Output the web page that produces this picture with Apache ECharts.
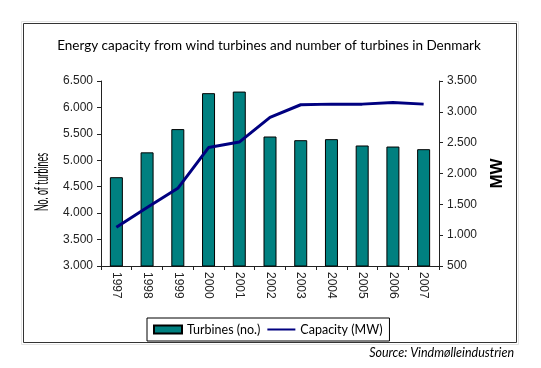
<!DOCTYPE html>
<html><head><meta charset="utf-8">
<script src="https://cdn.jsdelivr.net/npm/echarts@6/dist/echarts.min.js"></script>
<style>html,body{margin:0;padding:0;background:#fff;}#c{width:541px;height:368px;}</style>
</head><body><div id="c"></div>
<script>
const years = ['1997','1998','1999','2000','2001','2002','2003','2004','2005','2006','2007'];
const turbines = [4680, 5150, 5590, 6270, 6300, 5450, 5380, 5400, 5280, 5260, 5210];
const capacityMW = [1128, 1450, 1760, 2420, 2510, 2910, 3115, 3125, 3125, 3150, 3125];
const leftTicks = {min: 3000, max: 6500, interval: 500};
const rightTicks = {min: 500, max: 3500, interval: 500};

const fmt = v => { const s = String(Math.round(v)); return s.length > 3 ? s.slice(0, -3) + '.' + s.slice(-3) : s; };
const chart = echarts.init(document.getElementById('c'), null, {renderer: 'canvas'});
chart.setOption({
  animation: false,
  backgroundColor: '#fff',
  title: {
    text: 'Energy capacity from wind turbines and number of turbines in Denmark',
    left: 264, textAlign: 'center', top: 34,
    textStyle: {fontFamily: 'Lato', fontSize: 13.5, fontWeight: 'normal', color: '#000'}
  },
  graphic: [
    {type: 'rect', shape: {x: 21.5, y: 21.5, width: 497, height: 323}, style: {fill: 'none', stroke: '#e4e4e4', lineWidth: 1}, z: -1},
    {type: 'rect', shape: {x: 23.5, y: 23.5, width: 493, height: 319}, style: {fill: 'none', stroke: '#333', lineWidth: 1}, z: -1},
    {type: 'text', right: 27, top: 346, style: {text: 'Source: Vindmølleindustrien', font: 'italic 12.5px Lato', fill: '#000'}},
    {type: 'text', x: 42, y: 182, rotation: Math.PI / 2, scaleX: 0.68, scaleY: 1.45,
     style: {text: 'No. of turbines', font: '13px Lato', fill: '#000', textAlign: 'center', textVerticalAlign: 'middle'}}
  ],
  legend: {
    left: 147, top: 318, itemGap: 7, padding: [5, 7, 5, 6],
    borderColor: '#000', borderWidth: 1,
    itemWidth: 28, itemHeight: 8, symbolKeepAspect: false,
    textStyle: {fontFamily: 'Lato', fontSize: 12.5, color: '#000'},
    data: [
      {name: 'Turbines (no.)', icon: 'rect'},
      {name: 'Capacity (MW)', icon: 'path://M0,3.6 L10,3.6 L10,6.4 L0,6.4 Z M0,0 L0.001,0 M0,10 L0.001,10', itemStyle: {color: '#000080', borderWidth: 0}}
    ]
  },
  grid: {left: 101, right: 102, top: 81, bottom: 102},
  xAxis: {
    type: 'category', data: years, boundaryGap: true,
    axisLine: {lineStyle: {color: '#222', width: 1}},
    axisTick: {show: true, length: 4, inside: false, lineStyle: {color: '#222'}},
    axisLabel: {rotate: -90, fontFamily: 'Liberation Sans', fontSize: 12, color: '#222', margin: 6}
  },
  yAxis: [
    {
      type: 'value', min: leftTicks.min, max: leftTicks.max, interval: leftTicks.interval,
      axisLine: {show: true, lineStyle: {color: '#222'}},
      axisTick: {show: true, length: 4, lineStyle: {color: '#222'}},
      splitLine: {show: false},
      axisLabel: {formatter: fmt, fontFamily: 'Liberation Sans', fontSize: 12, color: '#222', margin: 8}
    },
    {
      type: 'value', min: rightTicks.min, max: rightTicks.max, interval: rightTicks.interval, position: 'right',
      name: 'MW', nameLocation: 'middle', nameRotate: 90, nameGap: 50,
      nameTextStyle: {fontFamily: 'Liberation Sans', fontSize: 17, fontWeight: 'bold', color: '#000'},
      axisLine: {show: true, lineStyle: {color: '#222'}},
      axisTick: {show: true, length: 4, lineStyle: {color: '#222'}},
      splitLine: {show: false},
      axisLabel: {formatter: fmt, fontFamily: 'Liberation Sans', fontSize: 12, color: '#222', margin: 8}
    }
  ],
  series: [
    {
      name: 'Turbines (no.)', type: 'bar', data: turbines, yAxisIndex: 0, barWidth: 13,
      itemStyle: {color: '#008080', borderColor: '#000', borderWidth: 1}
    },
    {
      name: 'Capacity (MW)', type: 'line', data: capacityMW, yAxisIndex: 1,
      symbol: 'none', lineStyle: {color: '#000080', width: 3}, itemStyle: {color: '#000080'}
    }
  ]
});
</script></body></html>
